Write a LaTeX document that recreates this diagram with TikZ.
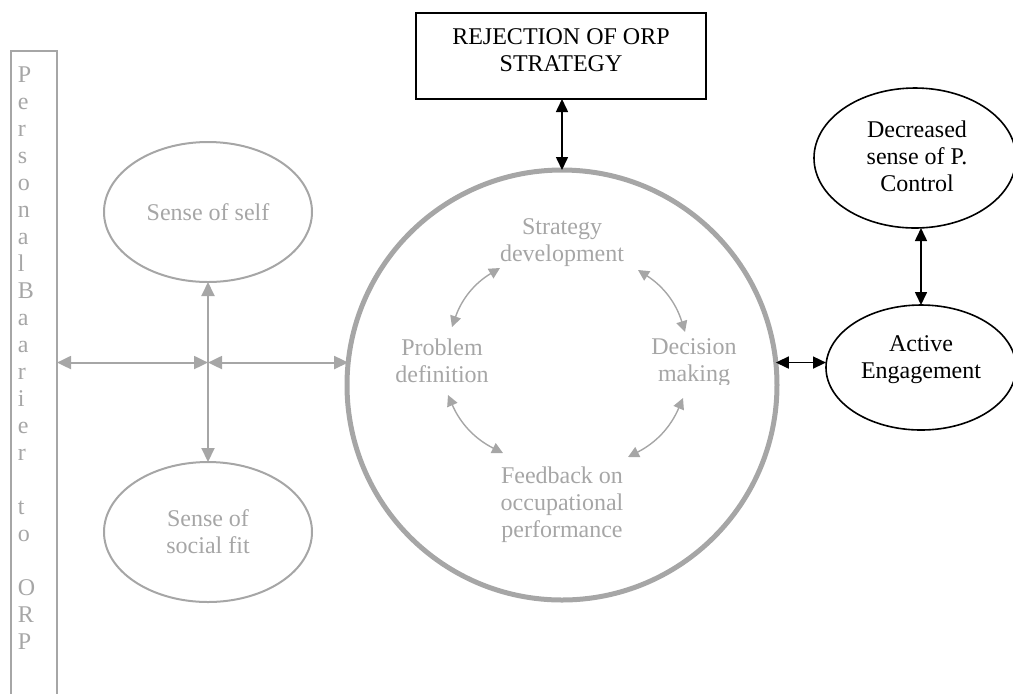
\documentclass[tikz,border=0pt]{standalone}
\usepackage{fontspec}
\setmainfont{Liberation Serif}
\usetikzlibrary{arrows.meta,shapes.geometric}
\definecolor{softgray}{RGB}{166,166,166}
\begin{document}
\begin{tikzpicture}[x=0.5pt,y=-0.5pt,
  font=\fontsize{12}{13.5}\selectfont,
  lbl/.style={align=center,inner sep=0pt,outer sep=0pt},
  glbl/.style={lbl,text=softgray},
  gell/.style={ellipse,draw=softgray,line width=1pt,inner sep=0pt,outer sep=0pt,
    minimum width=104pt,minimum height=70pt},
  bell/.style={ellipse,draw=black,line width=0.8pt,inner sep=0pt,outer sep=0pt},
  gtip/.tip={Triangle[length=5.5pt,width=5.5pt]},
  garr/.style={draw=softgray,line width=0.7pt,gtip-gtip},
  glink/.style={draw=softgray,line width=1pt,
    {Triangle[length=7pt,width=6.5pt]}-{Triangle[length=7pt,width=6.5pt]}},
  blink/.style={draw=black,line width=0.8pt,
    {Triangle[length=6.5pt,width=6pt]}-{Triangle[length=6.5pt,width=6pt]}},
]
\useasboundingbox (0,0) rectangle (1013,693);

% vertical side bar with its stacked letters
\node[draw=softgray,line width=1pt,inner sep=0pt,outer sep=0pt,anchor=north west,
      minimum width=23pt,minimum height=340pt] (bar) at (11,51) {};
\node[glbl,align=left,anchor=north west] (barT) at (18,67)
  {P\\e\\r\\s\\o\\n\\a\\l\\B\\a\\a\\r\\i\\e\\r\\\mbox{}\\t\\o\\\mbox{}\\O\\R\\P};

% left ellipses
\node[gell,text=softgray,align=center] (self) at (208,212) {Sense of self};
\node[gell,text=softgray,align=center] (social) at (208,532) {Sense of\\social fit};

% central cycle
\node[circle,draw=softgray,line width=2.5pt,minimum size=215pt,inner sep=0pt,
      outer sep=0pt] (cyc) at (562,385) {};
\node[glbl] (strat) at (562,243) {Strategy\\development};
\node[glbl] (prob) at (442,361) {Problem\\definition};
\begin{scope}
  \clip (630,320) rectangle (760,384);
  \node[glbl] (deci) at (694,363) {Decision\\making};
\end{scope}
\node[glbl] (fb) at (562,505) {Feedback on\\occupational\\performance};

\draw[garr] ([shift={(10,-34)}]prob.center) to[bend left=20] ([shift={(-62,25)}]strat.center);
\draw[garr] ([shift={(76,27)}]strat.center) to[bend left=20] ([shift={(-9,-31)}]deci.center);
\draw[garr] ([shift={(-11,35)}]deci.center) to[bend left=20] ([shift={(66,-48)}]fb.center);
\draw[garr] ([shift={(-59,-52)}]fb.center) to[bend left=20] ([shift={(6,34)}]prob.center);

% links on the left
\coordinate (j) at (self.south |- cyc.174);
\draw[glink] (bar.east |- j) -- (j);
\draw[glink] (j) -- (cyc.174);
\draw[glink] (social.north) -- (self.south);

% top box
\node[draw=black,line width=1pt,minimum width=145pt,minimum height=43pt,
      inner sep=0pt,outer sep=0pt] (rej) at (561,56) {};
\node[lbl] (rejT) at (561,50) {REJECTION OF ORP\\STRATEGY};
\draw[blink] (cyc.north |- rej.south) -- (cyc.north);

% right ellipses
\node[bell,minimum width=101pt,minimum height=70pt] (dec) at (915,158) {};
\node[lbl] (decT) at (917,156) {Decreased\\sense of P.\\Control};
\node[bell,minimum width=95pt,minimum height=62.5pt] (act) at (921,367.5) {};
\node[lbl] (actT) at (921,360) {Active\\Engagement};
\draw[blink] (dec.south -| act.north) -- (act.north);
\draw[blink] (cyc.6) -- (cyc.6 -| act.west);
\end{tikzpicture}
\end{document}
